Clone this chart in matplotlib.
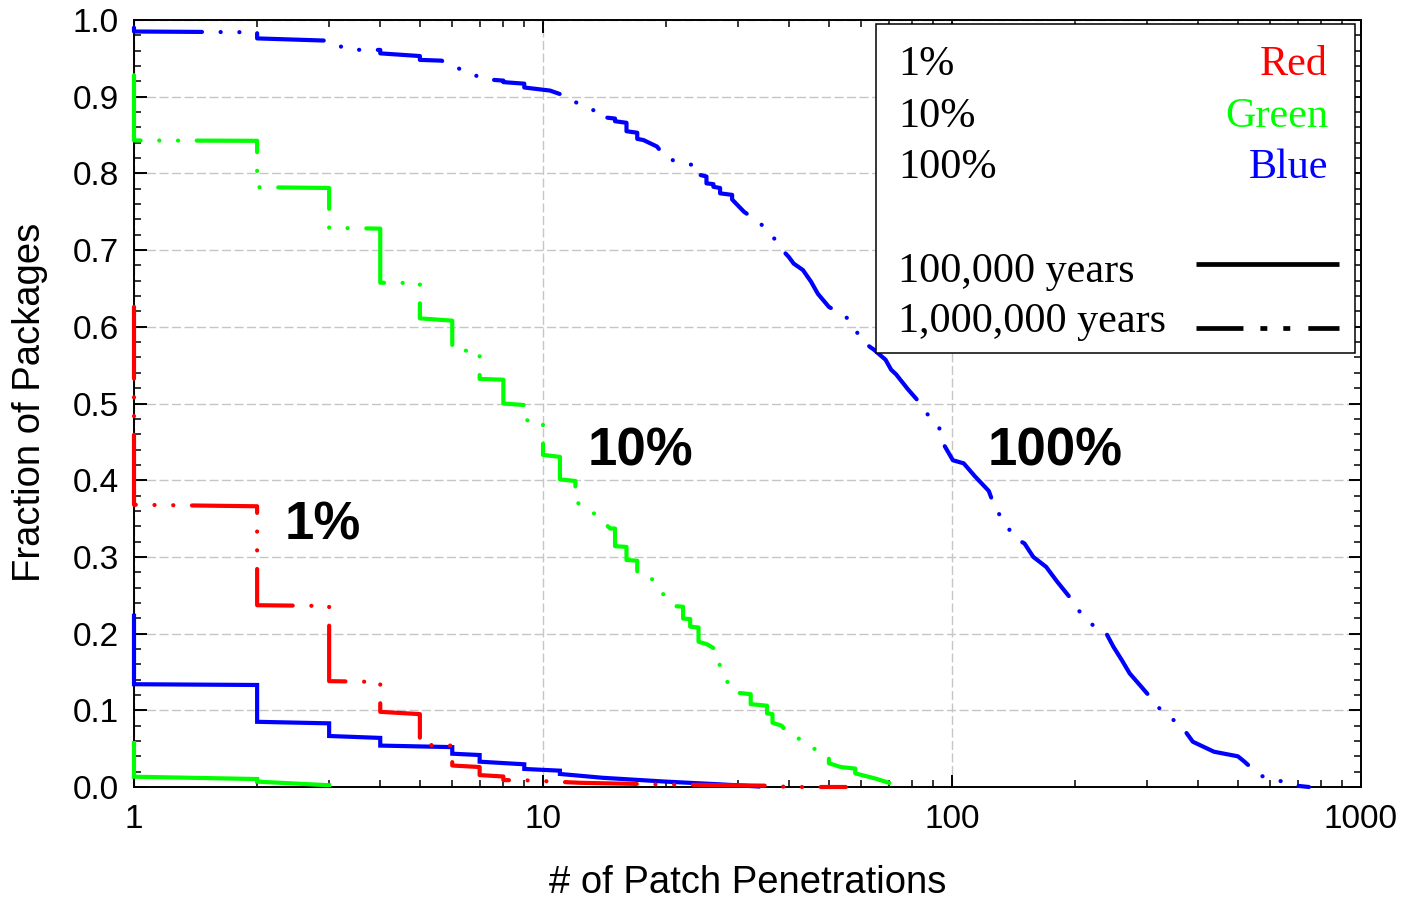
import matplotlib
matplotlib.use("Agg")
import matplotlib.pyplot as plt
from matplotlib.lines import Line2D
from matplotlib.patches import Rectangle
from matplotlib.ticker import FixedLocator, MultipleLocator, LogLocator, NullFormatter, FuncFormatter

# ---------------------------------------------------------------------------
# Data: complementary cumulative curves (polyline vertices, repeated x = drop)
# ---------------------------------------------------------------------------
# 1% threshold, 1,000,000 years
red_1m_x = [1, 1, 2, 2, 3, 3, 4, 4, 5, 5, 6, 6, 6.5, 7, 7, 8, 8, 9.1, 12.3, 18.8, 38, 39, 55]
red_1m_y = [0.626, 0.368, 0.366, 0.237, 0.236, 0.138, 0.137, 0.098, 0.095, 0.055, 0.054, 0.028,
            0.027, 0.026, 0.0155, 0.0137, 0.009, 0.0087, 0.0055, 0.0035, 0.0015, 0.0, 0.0]

# 10% threshold, 100,000 years
green_1e5_x = [1, 1, 2, 2, 3, 3]
green_1e5_y = [0.060, 0.0134, 0.0104, 0.007, 0.0023, 0.0]

# 10% threshold, 1,000,000 years
green_1m_x = [1, 1, 2, 2, 3, 3, 4, 4, 5, 5, 6, 6, 7, 7, 8, 8, 9, 9, 10, 10, 11, 11, 12, 12,
              13, 13.8, 14.6, 15, 15, 16, 16, 17, 17, 17.9, 18.95, 19.8, 20.9, 22, 22, 22.9,
              22.9, 24, 24, 25.2, 26.4, 27, 28, 29.1, 32.2, 32.2, 35.3, 35.3, 36.4, 36.4, 38.3,
              39, 42.5, 46, 50, 50, 53.5, 58, 58, 65, 70, 76]
green_1m_y = [0.928, 0.843, 0.8425, 0.782, 0.781, 0.729, 0.728, 0.6575, 0.657, 0.611, 0.608,
              0.5698, 0.568, 0.532, 0.531, 0.500, 0.498, 0.4785, 0.476, 0.433, 0.4304, 0.401,
              0.399, 0.372, 0.362, 0.349, 0.337, 0.337, 0.314, 0.313, 0.296, 0.295, 0.279,
              0.2777, 0.2656, 0.249, 0.236, 0.235, 0.2196, 0.219, 0.209, 0.208, 0.1895, 0.186,
              0.1795, 0.160, 0.1408, 0.1235, 0.121, 0.108, 0.106, 0.096, 0.095, 0.0837, 0.080,
              0.075, 0.062, 0.050, 0.040, 0.031, 0.026, 0.024, 0.0178, 0.011, 0.0056, 0.0]

# 100% threshold, 100,000 years
blue_1e5_x = [1, 1, 2, 2, 3, 3, 4, 4, 6, 6, 7, 7, 9, 9, 11, 11, 14, 20, 27, 34]
blue_1e5_y = [0.226, 0.134, 0.133, 0.085, 0.083, 0.0665, 0.064, 0.054, 0.052, 0.0434, 0.0417,
              0.033, 0.0296, 0.0235, 0.0213, 0.017, 0.012, 0.007, 0.0035, 0.0005]

# 100% threshold, 1,000,000 years
blue_1m_x = [1, 1, 2, 2, 3, 3.3, 3.6, 4, 4, 5, 5, 5.65, 6.3, 6.7, 7.07, 8, 8, 9, 9, 10.4, 11.2,
             12, 13, 13.9, 13.9, 15, 15, 16, 16, 17, 17, 17.6, 19, 20, 22, 23.3, 23.3, 24.2,
             24.2, 25.1, 25.1, 26.1, 26.1, 27.1, 27.1, 29, 29, 31, 33.6, 35.9, 36.5, 38.2,
             39.9, 41, 43.2, 45.2, 47, 50, 55, 57.7, 59.6, 64.5, 68.8, 71, 73, 77.9, 84, 89,
             92.9, 95, 100.5, 106.8, 113.8, 123, 128, 135, 141, 150.4, 158, 169.9, 180.6,
             194.3, 206.8, 222, 236, 248, 260, 272, 290, 310, 330, 361, 388, 437, 500, 519,
             565, 625, 686, 746]
blue_1m_y = [0.990, 0.985, 0.984, 0.976, 0.973, 0.962, 0.961, 0.961, 0.9565, 0.953, 0.948,
             0.947, 0.9355, 0.931, 0.923, 0.921, 0.919, 0.917, 0.912, 0.908, 0.902, 0.893,
             0.884, 0.879, 0.8735, 0.8715, 0.868, 0.866, 0.855, 0.853, 0.845, 0.8435, 0.835,
             0.820, 0.813, 0.811, 0.8045, 0.803, 0.798, 0.796, 0.787, 0.786, 0.7825, 0.781,
             0.774, 0.772, 0.766, 0.750, 0.737, 0.723, 0.7175, 0.702, 0.691, 0.6825, 0.674,
             0.659, 0.643, 0.626, 0.613, 0.602, 0.583, 0.570, 0.557, 0.544, 0.538, 0.519,
             0.499, 0.4785, 0.470, 0.4485, 0.426, 0.422, 0.405, 0.386, 0.361, 0.346, 0.326,
             0.3175, 0.300, 0.287, 0.268, 0.247, 0.226, 0.210, 0.2047, 0.183, 0.1656, 0.148,
             0.131, 0.113, 0.095, 0.082, 0.059, 0.046, 0.040, 0.033, 0.015, 0.009, 0.002, 0.0]

x_ticks = [1, 10, 100, 1000]
x_tick_labels = ["1", "10", "100", "1000"]
y_ticks = [0.0, 0.1, 0.2, 0.3, 0.4, 0.5, 0.6, 0.7, 0.8, 0.9, 1.0]

legend_thresholds = ["1%", "10%", "100%"]
legend_colors = ["Red", "Green", "Blue"]
legend_periods = ["100,000 years", "1,000,000 years"]
curve_labels = ["1%", "10%", "100%"]

RED, GREEN, BLUE = "#ff0000", "#00ff00", "#0000ff"

# ---------------------------------------------------------------------------
plt.rcParams["lines.scale_dashes"] = False
plt.rcParams["font.family"] = ["Liberation Sans", "DejaVu Sans"]

W, H = 1405, 900
fig = plt.figure(figsize=(W / 100, H / 100), dpi=100)


def fx(px):
    return px / W


def fy(py):
    return 1 - py / H


ax = fig.add_axes([fx(134), fy(787), fx(1361) - fx(134), fy(20) - fy(787)])
ax.set_xscale("log")
ax.set_xlim(1, 1000)
ax.set_ylim(0, 1)

LW = 3.0
DASH_DOT_DOT = (0, (54.7 - LW, 13.4, 0.1, 13.4, 0.1, 13.4))

common = dict(lw=LW, clip_on=False, zorder=3)
ax.plot(blue_1e5_x, blue_1e5_y, color=BLUE, solid_capstyle="butt", solid_joinstyle="miter", **common)
ax.plot(green_1e5_x, green_1e5_y, color=GREEN, solid_capstyle="butt", solid_joinstyle="miter", **common)
ax.plot(red_1m_x, red_1m_y, color=RED, linestyle=DASH_DOT_DOT, dash_capstyle="round", **common)
ax.plot(green_1m_x, green_1m_y, color=GREEN, linestyle=DASH_DOT_DOT, dash_capstyle="round", **common)
ax.plot(blue_1m_x, blue_1m_y, color=BLUE, linestyle=DASH_DOT_DOT, dash_capstyle="round", **common)

# Axes, ticks and grid
ax.xaxis.set_major_locator(FixedLocator(x_ticks))
ax.xaxis.set_major_formatter(FuncFormatter(lambda v, p: x_tick_labels[x_ticks.index(round(v))]
                                           if round(v) in x_ticks else ""))
ax.xaxis.set_minor_locator(LogLocator(base=10, subs=range(2, 10)))
ax.xaxis.set_minor_formatter(NullFormatter())
ax.yaxis.set_major_locator(FixedLocator(y_ticks))
ax.yaxis.set_major_formatter(FuncFormatter(lambda v, p: f"{v:.1f}"))
ax.yaxis.set_minor_locator(MultipleLocator(0.02))

ax.tick_params(which="both", direction="in", top=True, right=True, colors="black")
ax.tick_params(which="major", length=9, width=1.4, labelsize=24)
ax.tick_params(which="minor", length=5, width=1.1)
ax.tick_params(axis="x", which="major", pad=12)
ax.tick_params(axis="y", which="major", pad=11)

ax.set_axisbelow(True)
ax.grid(True, which="major", color="#c6c6c6", linestyle=(0, (6.5, 2.5)), linewidth=1.0)
for sp in ax.spines.values():
    sp.set_linewidth(1.4)
    sp.set_zorder(2.5)

fig.text(fx(30), fy(402), "Fraction of Packages", rotation=90, ha="center", va="center",
         fontsize=27.5)
fig.text(fx(747.5), fy(883), "# of Patch Penetrations", ha="center", va="center", fontsize=27.5)

# In-plot curve labels
for label, (lx, ly) in zip(curve_labels, [(285, 540), (588, 466), (988, 466)]):
    fig.text(fx(lx), fy(ly), label, ha="left", va="baseline", fontsize=38, fontweight="bold",
             zorder=6)

# Key box
fig.add_artist(Rectangle((fx(876), fy(353)), fx(1355) - fx(876), fy(24) - fy(353),
                         transform=fig.transFigure, facecolor="white", edgecolor="black",
                         lw=1.1, zorder=5))
serif = ["Liberation Serif", "DejaVu Serif"]
rows = [75, 126.7, 178.3]
for thr, cname, col, by in zip(legend_thresholds, legend_colors, [RED, GREEN, BLUE], rows):
    fig.text(fx(898), fy(by), thr, ha="left", va="baseline", fontsize=30.3, family=serif, zorder=6)
    fig.text(fx(1328), fy(by), cname, ha="right", va="baseline", fontsize=30.3, family=serif,
             color=col, zorder=6)
for period, by in zip(legend_periods, [281.7, 331.7]):
    fig.text(fx(898), fy(by), period, ha="left", va="baseline", fontsize=30.3, family=serif,
             zorder=6)
fig.add_artist(Line2D([fx(1196), fx(1339)], [fy(264), fy(264)], transform=fig.transFigure,
                      color="black", lw=3.4, solid_capstyle="butt", zorder=6))
fig.add_artist(Line2D([fx(1196), fx(1339)], [fy(327.7), fy(327.7)], transform=fig.transFigure,
                      color="black", lw=3.4, linestyle=(0, (33.8, 12.2, 5, 11.5, 5, 13)),
                      dash_capstyle="butt", zorder=6))

fig.savefig("out.png", dpi=100)
